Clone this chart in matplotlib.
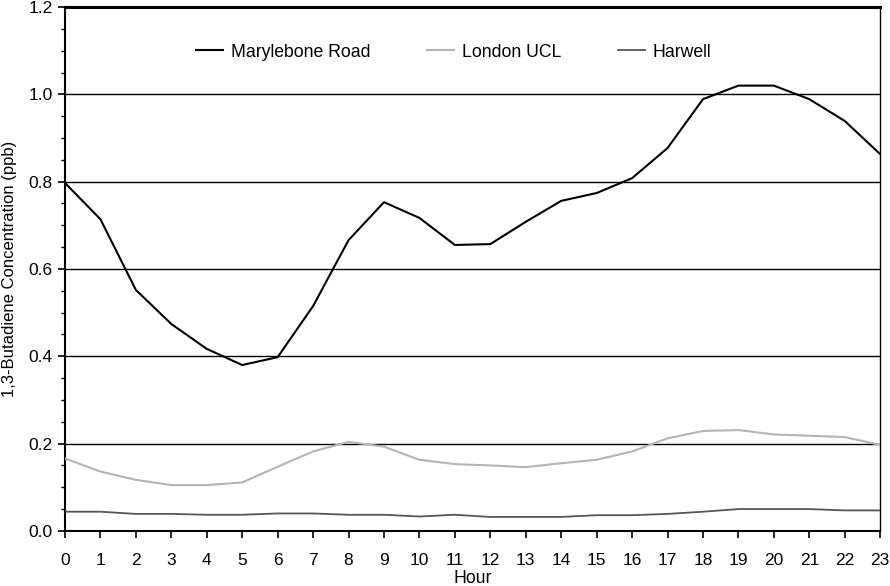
import matplotlib
matplotlib.use("Agg")
import matplotlib.pyplot as plt
from matplotlib.ticker import MultipleLocator

plt.rcParams["font.family"] = ["Liberation Sans", "DejaVu Sans"]

hours = list(range(24))
marylebone = [0.797, 0.714, 0.552, 0.474, 0.417, 0.380, 0.398, 0.515,
              0.666, 0.753, 0.717, 0.655, 0.657, 0.708, 0.756, 0.774,
              0.808, 0.877, 0.989, 1.020, 1.020, 0.989, 0.939, 0.863]
london_ucl = [0.166, 0.136, 0.117, 0.105, 0.105, 0.111, 0.147, 0.182,
              0.204, 0.193, 0.163, 0.153, 0.150, 0.146, 0.155, 0.163,
              0.182, 0.212, 0.229, 0.231, 0.221, 0.218, 0.215, 0.197]
harwell = [0.044, 0.044, 0.039, 0.039, 0.037, 0.037, 0.040, 0.040,
           0.037, 0.037, 0.033, 0.037, 0.032, 0.032, 0.032, 0.036,
           0.036, 0.039, 0.044, 0.050, 0.050, 0.050, 0.047, 0.047]

fig = plt.figure(figsize=(8.9, 5.86), dpi=100)
ax = fig.add_axes([0.073, 0.094, 0.916, 0.894])

# horizontal reference lines at the major y ticks
for y in [0.2, 0.4, 0.6, 0.8, 1.0]:
    ax.axhline(y, color="black", lw=1.0, zorder=1)

ax.plot(hours, marylebone, color="black", lw=1.5, label="Marylebone Road", zorder=3)
ax.plot(hours, london_ucl, color="#b4b4b4", lw=1.5, label="London UCL", zorder=3)
ax.plot(hours, harwell, color="#555555", lw=1.3, label="Harwell", zorder=3)

ax.set_xlim(0, 23)
ax.set_ylim(0, 1.2)
ax.set_xticks(hours)
ax.yaxis.set_major_locator(MultipleLocator(0.2))
ax.yaxis.set_minor_locator(MultipleLocator(0.05))
ax.yaxis.set_major_formatter(plt.FuncFormatter(lambda v, p: f"{v:.1f}"))
ax.tick_params(axis="both", direction="out", labelsize=12.5, width=1.2, length=5)
ax.tick_params(axis="y", which="minor", direction="out", length=3, width=1)
ax.tick_params(axis="x", pad=11)
ax.tick_params(axis="y", pad=4)

ax.spines["left"].set_linewidth(1.5)
ax.spines["bottom"].set_linewidth(1.5)
ax.spines["top"].set_linewidth(2.2)
ax.spines["right"].set_linewidth(1.0)

ax.set_xlabel("Hour", fontsize=12.7, labelpad=1.5)
ax.set_ylabel("1,3-Butadiene Concentration (ppb)", fontsize=12, labelpad=8)

ax.legend(loc="center left", bbox_to_anchor=(0.161, 0.914), ncol=3, frameon=False,
          fontsize=12.7, handlelength=1.53, columnspacing=3.2, handletextpad=0.45,
          borderpad=0, borderaxespad=0)

fig.savefig("out.png", dpi=100)
